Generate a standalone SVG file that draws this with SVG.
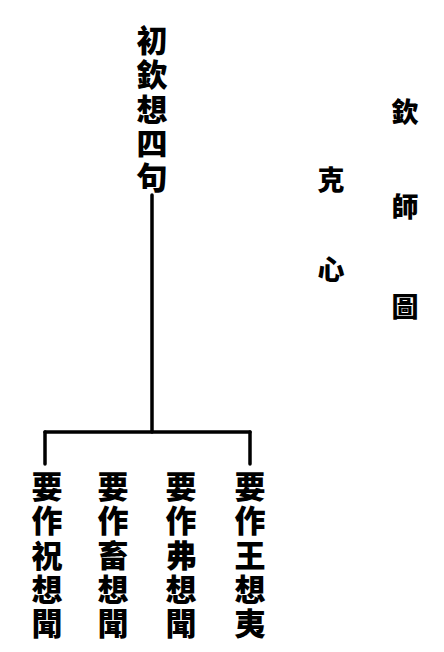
<svg xmlns="http://www.w3.org/2000/svg" width="444" height="652" viewBox="0 0 444 652">
<style>
text{font-family:"Noto Sans CJK TC","Noto Sans CJK SC",sans-serif;font-weight:900;fill:#000}
.v{writing-mode:vertical-rl;font-size:31px;letter-spacing:3.4px}
.s{font-size:27px;text-anchor:middle;dominant-baseline:central}
.ln{stroke:#000;stroke-width:3.5;fill:none;stroke-linecap:round}
</style>
<rect width="444" height="652" fill="#fff"/>
<g id="title">
<text class="s" x="405" y="110">欽</text>
<text class="s" x="405" y="205">師</text>
<text class="s" x="405" y="305">圖</text>
</g>
<g id="subtitle">
<text class="s" x="331" y="178">克</text>
<text class="s" x="331" y="268">心</text>
</g>
<g id="root">
<text class="v" x="152" y="24.5">初欽想四句</text>
</g>
<g id="connectors">
<path class="ln" d="M152 195 L152 432"/>
<path class="ln" d="M45 432 L250 432"/>
<path class="ln" d="M45 432 L45 464"/>
<path class="ln" d="M250 432 L250 464"/>
</g>
<g id="leaf1"><text class="v" x="47" y="470.5">要作祝想聞</text></g>
<g id="leaf2"><text class="v" x="113" y="470.5">要作畜想聞</text></g>
<g id="leaf3"><text class="v" x="181" y="470.5">要作弗想聞</text></g>
<g id="leaf4"><text class="v" x="250" y="470.5">要作王想夷</text></g>
</svg>
